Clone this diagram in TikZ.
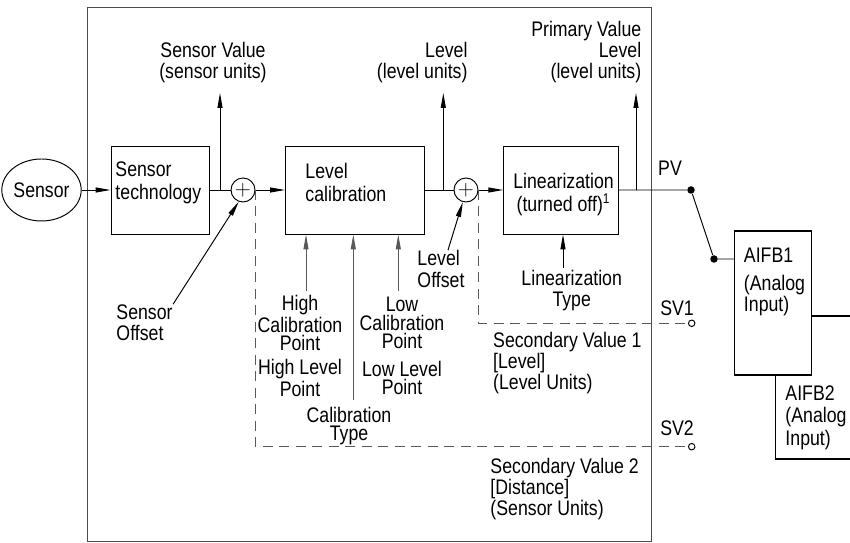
\documentclass[tikz,border=0pt]{standalone}
\usepackage{fontspec}
\setmainfont{Liberation Sans}[FakeStretch=0.84]
\usepackage{tikz}
\usetikzlibrary{calc, positioning, arrows.meta, shapes.geometric}

\begin{document}
\begin{tikzpicture}[>={Triangle[length=3mm, width=1mm]}, font=\fontsize{12}{12}\selectfont, line width=0.55pt,
  blk/.style={draw, minimum height=1.76cm, inner sep=0pt},
  sumpt/.style={draw, circle, minimum size=0.48cm, inner sep=0pt},
  lbl/.style={inner sep=0pt, align=center},
  callbl/.style={inner sep=0pt, align=center, font=\fontsize{12}{10.5}\selectfont},
  sigdash/.style={black!65, dash pattern=on 0.2cm off 0.13cm},
  feed/.style={->, black!65},
  fbbox/.style={draw, fill=white, inner sep=0pt},
  fbedge/.style={line width=1.3pt},
  joint/.style={fill, circle, inner sep=0pt, minimum size=0.15cm},
  svend/.style={draw, circle, fill=white, inner sep=0pt, minimum size=0.13cm}]
  \clip (0, 0) rectangle (17, 10.86);
  \draw[black!70] (1.74, 0.03) rectangle (13.02, 10.72);

  % forward path
  \node[draw, ellipse, minimum width=1.42cm, minimum height=1.24cm, inner sep=0pt] (sensor) at (0.83, 7.06) {Sensor};
  \node[blk, minimum width=1.96cm] (stech) at (3.20, 7.06) {};
  \node[lbl, anchor=west, align=left, font=\fontsize{12}{13}\selectfont] (stechtxt) at (2.30, 7.21) {Sensor\\technology};
  \node[sumpt] (pl1) at (4.86, 7.06) {$+$};
  \node[blk, minimum width=2.77cm] (lcal) at (7.095, 7.06) {};
  \node[lbl, anchor=west, align=left, font=\fontsize{12}{13}\selectfont] (lcaltxt) at (6.10, 7.21) {Level\\calibration};
  \node[sumpt] (pl2) at (9.32, 7.06) {$+$};
  \node[blk, minimum width=2.29cm] (lin) at (11.22, 7.06) {};
  \node[lbl, font=\fontsize{12}{13}\selectfont] (lintxt) at (11.27, 6.97) {Linearization\\(turned off)\textsuperscript{1}};
  \node[joint] (pvdot) at (13.82, 7.06) {};
  \node[joint] (aidot) at (14.28, 5.68) {};
  \node[lbl] (pvtag) at (13.40, 7.50) {PV};

  % function blocks
  \node[fbbox, minimum width=1.8cm, minimum height=2.832cm] (ai2) at (16.40, 3.11) {};
  \draw[fbedge] (ai2.north west) -- (ai2.north east);
  \draw[fbedge] (ai2.south west) -- (ai2.south east);
  \node[fbbox, minimum width=1.548cm, minimum height=2.852cm] (ai1) at (15.46, 4.80) {};
  \draw[fbedge] (ai1.north west) -- (ai1.north east);
  \draw[fbedge] (ai1.south west) -- (ai1.south east);
  \node[lbl, anchor=west] (ai1name) at (14.87, 5.76) {AIFB1};
  \node[lbl, anchor=west, align=left] (ai1kind) at (14.87, 4.945) {(Analog\\Input)};
  \node[lbl, anchor=west, align=left, font=\fontsize{12}{12.8}\selectfont] (ai2txt) at (15.70, 2.51) {AIFB2\\(Analog\\Input)};

  \draw[->] (sensor) -- (stech);
  \draw (stech) -- (pl1);
  \draw[->] (pl1) -- (lcal);
  \draw (lcal) -- (pl2);
  \draw[->] (pl2) -- (lin);
  \draw (lin) -- (pvdot) -- (aidot) -- (aidot -| ai1.west);

  % outputs
  \coordinate (svtip) at (4.40, 9.0);
  \coordinate (lvtip) at (8.866, 9.0);
  \coordinate (pvtip) at (12.72, 9.0);
  \draw[->] (svtip |- stech) -- (svtip);
  \draw[->] (lvtip |- lcal) -- (lvtip);
  \draw[->] (pvtip |- lin) -- (pvtip);
  \node[lbl] (svlbl) at (4.26, 9.61) {Sensor Value\\(sensor units)};
  \node[lbl, anchor=east, align=right] (lvlbl) at (9.36, 9.61) {Level\\(level units)};
  \node[lbl, anchor=east, align=right] (pvlbl) at (12.834, 9.826) {Primary Value\\Level\\(level units)};

  % offsets
  \node[lbl, anchor=west, align=left] (soff) at (2.32, 4.406) {Sensor\\Offset};
  \draw[->] (soff.north east) -- (pl1.250);
  \node[lbl, anchor=west, align=left] (loff) at (8.34, 5.48) {Level\\Offset};
  \draw[->] ([xshift=0.14cm]loff.north) -- (pl2.255);

  % calibration inputs
  \node[callbl] (hicp) at (6.00, 4.40) {High\\Calibration\\Point};
  \node[callbl] (hilp) at (6.00, 3.30) {High Level\\Point};
  \node[callbl] (locp) at (8.04, 4.40) {Low\\Calibration\\Point};
  \node[callbl] (lolp) at (8.04, 3.30) {Low Level\\Point};
  \node[callbl] (caltype) at (6.98, 2.34) {Calibration\\Type};
  \coordinate (hiin) at (6.12, 5.03);
  \coordinate (ctin) at (7.066, 2.86);
  \coordinate (loin) at (7.966, 5.03);
  \draw[feed] (hiin) -- (hiin |- lcal.south);
  \draw[feed] (ctin) -- (ctin |- lcal.south);
  \draw[feed] (loin) -- (loin |- lcal.south);
  \node[lbl] (lintype) at (11.434, 5.04) {Linearization\\Type};
  \coordinate (ltin) at (11.26, 5.50);
  \draw[->] (ltin) -- (ltin |- lin.south);

  % secondary values
  \node[svend] (sv1end) at (13.834, 4.394) {};
  \node[svend] (sv2end) at (13.834, 1.926) {};
  \draw[sigdash] (pl2.east) -- (pl2.east |- sv1end) -- (sv1end);
  \draw[sigdash] (pl1.east) -- (pl1.east |- sv2end) -- (sv2end);
  \node[lbl] (sv1tag) at (13.54, 4.70) {SV1};
  \node[lbl] (sv2tag) at (13.54, 2.30) {SV2};
  \node[lbl, anchor=west, align=left] (sv1txt) at (9.854, 3.60) {Secondary Value 1\\{[Level]}\\(Level Units)};
  \node[lbl, anchor=west, align=left] (sv2txt) at (9.80, 1.074) {Secondary Value 2\\{[Distance]}\\(Sensor Units)};
\end{tikzpicture}
\end{document}
